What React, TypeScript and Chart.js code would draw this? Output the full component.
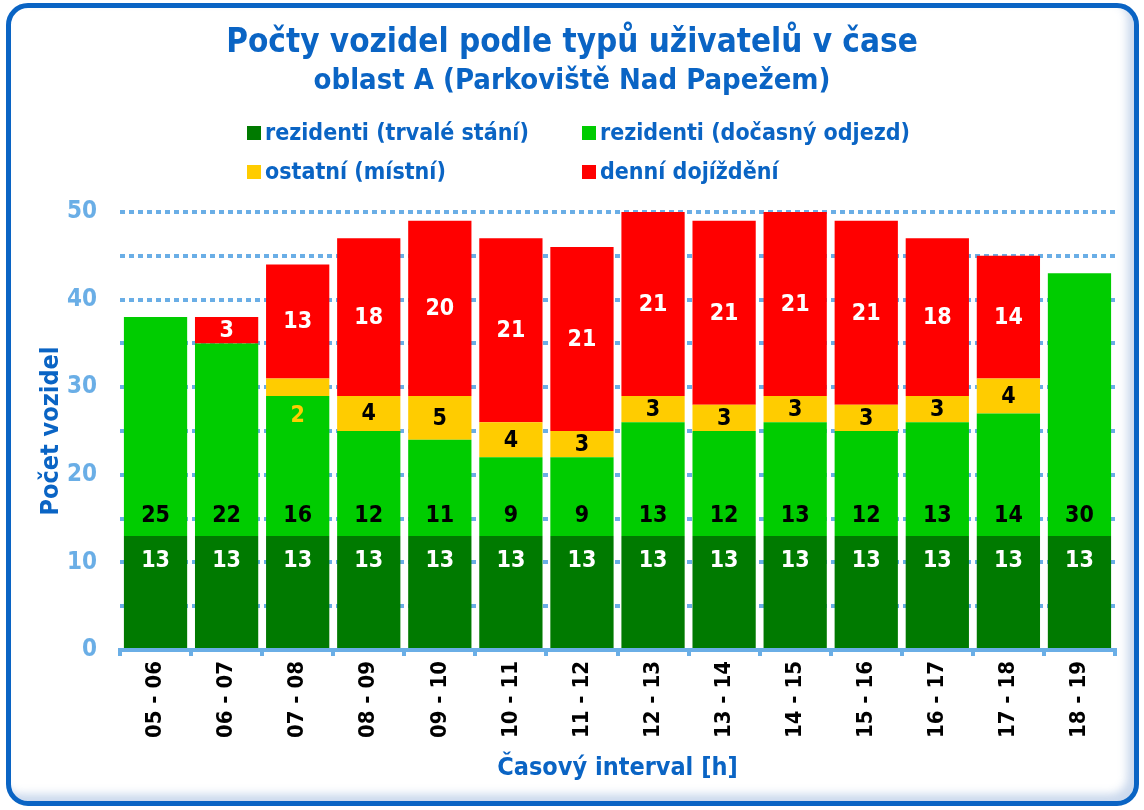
import { useEffect, useRef } from "react";
import { Chart, registerables } from "chart.js";

Chart.register(...registerables);

const intervals = [
  "05 - 06", "06 - 07", "07 - 08", "08 - 09", "09 - 10", "10 - 11", "11 - 12",
  "12 - 13", "13 - 14", "14 - 15", "15 - 16", "16 - 17", "17 - 18", "18 - 19",
];
const trvaleStani = [13, 13, 13, 13, 13, 13, 13, 13, 13, 13, 13, 13, 13, 13];
const docasnyOdjezd = [25, 22, 16, 12, 11, 9, 9, 13, 12, 13, 12, 13, 14, 30];
const ostatniMistni = [0, 0, 2, 4, 5, 4, 3, 3, 3, 3, 3, 3, 4, 0];
const denniDojizdeni = [0, 3, 13, 18, 20, 21, 21, 21, 21, 21, 21, 18, 14, 0];
const yLabels = [0, 10, 20, 30, 40, 50];

const FONT = "'DejaVu Sans Condensed', 'DejaVu Sans', sans-serif";
const BLUE = "#0a64c4";
const LIGHT_BLUE = "#6aaee6";

// title, subtitle and the two-column legend
const headerPlugin = {
  id: "header",
  afterDraw(chart: Chart) {
    const ctx = chart.ctx;
    ctx.save();
    ctx.fillStyle = BLUE;
    ctx.textAlign = "center";
    ctx.textBaseline = "middle";
    ctx.font = `bold 33px ${FONT}`;
    ctx.fillText("Počty vozidel podle typů uživatelů v čase", 572, 43);
    ctx.font = `bold 29px ${FONT}`;
    ctx.fillText("oblast A (Parkoviště Nad Papežem)", 572, 81);

    const cols = [247, 582];
    const rows = [133, 172];
    ctx.textAlign = "left";
    ctx.font = `bold 23px ${FONT}`;
    chart.data.datasets.forEach((ds, i) => {
      const x = cols[i % 2];
      const y = rows[Math.floor(i / 2)];
      ctx.fillStyle = ds.backgroundColor as string;
      ctx.fillRect(x, y - 7, 14, 14);
      ctx.fillStyle = BLUE;
      ctx.fillText(ds.label as string, x + 18, y + 1);
    });
    ctx.restore();
  },
};

// value labels inside the segments
const valuePlugin = {
  id: "values",
  afterDatasetsDraw(chart: Chart) {
    const ctx = chart.ctx;
    ctx.save();
    ctx.font = `bold 23px ${FONT}`;
    ctx.textAlign = "center";
    ctx.textBaseline = "middle";
    chart.data.datasets.forEach((ds, di) => {
      const meta = chart.getDatasetMeta(di);
      meta.data.forEach((bar: any, i) => {
        const v = ds.data[i] as number;
        if (!v) return;
        const top = bar.y;
        const base = bar.base;
        const h = base - top;
        let y = (top + base) / 2;
        let color = "#000";
        if (di === 0) {
          y = top + 24;
          color = "#fff";
        } else if (di === 1) {
          y = base - 21;
        } else if (di === 3) {
          color = "#fff";
        }
        if (h < 22) {
          y = base + 19;
          color = ds.backgroundColor as string;
        }
        ctx.fillStyle = color;
        ctx.fillText(String(v), bar.x, y + 1);
      });
    });
    ctx.restore();
  },
};

const App = () => {
  const chartRef = useRef<HTMLCanvasElement | null>(null);
  const chartInstance = useRef<Chart | null>(null);

  useEffect(() => {
    if (!chartRef.current) return;
    if (chartInstance.current) chartInstance.current.destroy();

    chartInstance.current = new Chart(chartRef.current, {
      type: "bar",
      data: {
        labels: intervals,
        datasets: [
          { label: "rezidenti (trvalé stání)", data: trvaleStani, backgroundColor: "#007a00" },
          { label: "rezidenti (dočasný odjezd)", data: docasnyOdjezd, backgroundColor: "#00cc00" },
          { label: "ostatní (místní)", data: ostatniMistni, backgroundColor: "#ffcc00" },
          { label: "denní dojíždění", data: denniDojizdeni, backgroundColor: "#ff0000" },
        ],
      },
      options: {
        animation: false,
        responsive: true,
        maintainAspectRatio: false,
        datasets: { bar: { barPercentage: 0.89, categoryPercentage: 1 } },
        layout: { padding: { top: 212, right: 29, bottom: 0, left: 0 } },
        plugins: {
          legend: { display: false },
          title: { display: false },
          tooltip: { enabled: false },
        },
        scales: {
          x: {
            stacked: true,
            afterFit: (s: any) => { s.height = 160; },
            border: { display: true, color: LIGHT_BLUE, width: 4 },
            grid: {
              display: true,
              drawOnChartArea: false,
              drawTicks: true,
              tickLength: 6,
              color: LIGHT_BLUE,
              lineWidth: 4,
              offset: true,
            },
            ticks: {
              minRotation: 90,
              maxRotation: 90,
              padding: 5,
              color: "#000",
              font: { family: FONT, size: 22, weight: "bold" },
            },
            title: {
              display: true,
              text: "Časový interval [h]",
              color: BLUE,
              font: { family: FONT, size: 25, weight: "bold" },
              padding: { top: 0, bottom: 27 },
            },
          },
          y: {
            stacked: true,
            min: 0,
            max: 50,
            afterFit: (s: any) => { s.width = 120; },
            border: { display: false, dash: [5, 4] },
            grid: {
              drawTicks: false,
              lineWidth: 4,
              color: (c: any) => (c.tick && c.tick.value === 0 ? "rgba(0,0,0,0)" : LIGHT_BLUE),
            },
            ticks: {
              stepSize: 5,
              padding: 23,
              color: LIGHT_BLUE,
              font: { family: FONT, size: 24, weight: "bold" },
              callback: (v: any) => (yLabels.includes(Number(v)) ? String(v) : ""),
            },
            title: {
              display: true,
              text: "Počet vozidel",
              color: BLUE,
              font: { family: FONT, size: 25, weight: "bold" },
              padding: { top: 36, bottom: 0 },
            },
          },
        },
      },
      plugins: [headerPlugin, valuePlugin],
    } as any);

    return () => {
      if (chartInstance.current) {
        chartInstance.current.destroy();
        chartInstance.current = null;
      }
    };
  }, []);

  return (
    <div style={{ position: "fixed", left: 0, top: 0, width: 1144, height: 810, background: "#fff" }}>
      <canvas ref={chartRef} />
      <div
        style={{
          position: "absolute",
          left: 6,
          top: 3,
          width: 1133,
          height: 803,
          boxSizing: "border-box",
          border: `5px solid ${BLUE}`,
          borderRadius: 22,
          boxShadow: "inset -7px -7px 8px rgba(140,170,215,0.45)",
          pointerEvents: "none",
        }}
      />
    </div>
  );
};

export default App;
